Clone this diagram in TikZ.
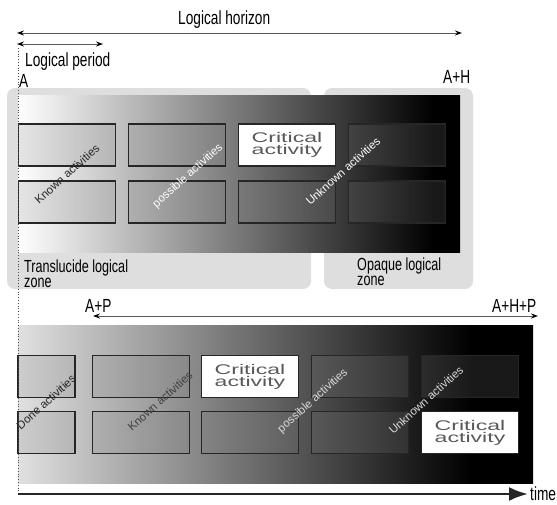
\documentclass[tikz,border=0pt]{standalone}
\usepackage{fontspec}
\setmainfont{Liberation Sans}
\newfontfamily\narrowfont[FakeStretch=0.72]{Liberation Sans}
\newfontfamily\widefont[FakeStretch=1.65]{Liberation Sans}
\usepackage{tikz}
\usetikzlibrary{positioning, arrows.meta}

\pgfdeclarehorizontalshading{upperfade}{100bp}{color(0bp)=(white); color(25bp)=(white); color(72bp)=(black); color(100bp)=(black)}
\pgfdeclarehorizontalshading{lowerfade}{100bp}{color(0bp)=(black!12); color(25bp)=(black!12); color(69bp)=(black); color(100bp)=(black)}

\tikzset{
  act/.style={draw=black!85, line width=1.1pt, fill=gray, fill opacity=0.2,
    minimum width=97pt, minimum height=42pt, inner sep=0pt},
  crit/.style={draw=black!85, line width=1.1pt, fill=white, minimum width=97pt,
    minimum height=42pt, inner sep=0pt, align=center, text=black!65,
    font=\widefont\fontsize{14}{12}\selectfont},
  tagtext/.style={rotate=42, inner sep=0pt, font=\fontsize{11.5}{12}\selectfont},
  lbl/.style={inner sep=0pt, anchor=base west, font=\narrowfont\fontsize{19}{19}\selectfont},
  zonelbl/.style={inner sep=0pt, anchor=north west, align=left,
    font=\narrowfont\fontsize{17.5}{15}\selectfont},
  zonebox/.style={fill=black!13, rounded corners=8pt},
  spanarrow/.style={black!65, line width=1pt,
    {Stealth[length=7pt,width=5pt,color=black]}-{Stealth[length=7pt,width=5pt,color=black]}}
}

\begin{document}
\begin{tikzpicture}[x=1pt, y=-1pt, on grid]
  \useasboundingbox (0,0) rectangle (557,504);

  % Zonas logicas
  \fill[zonebox] (7,88) rectangle (311,289);
  \fill[zonebox] (324,88) rectangle (473,289);
  \shade[shading=upperfade] (18,95) rectangle (460,252);
  \shade[shading=lowerfade] (18,325) rectangle (533,483);

  % Fila superior
  \node[act] (u11) at (67,145) {};
  \node[act] (u12) [right=110pt of u11] {};
  \node[crit] (u13) [right=110pt of u12] {Critical\\activity};
  \node[act] (u14) [right=110pt of u13] {};
  \node[act] (u21) [below=57pt of u11] {};
  \node[act] (u22) [right=110pt of u21] {};
  \node[act] (u23) [right=110pt of u22] {};
  \node[act] (u24) [right=110pt of u23] {};

  % Fila inferior
  \node[act, minimum width=57pt] (l11) at (46.5,376.5) {};
  \node[act] (l12) [right=94.5pt of l11] {};
  \node[crit] (l13) [right=109pt of l12] {Critical\\activity};
  \node[act] (l14) [right=110pt of l13] {};
  \node[act] (l15) [right=110pt of l14] {};
  \node[act, minimum width=57pt] (l21) [below=56pt of l11] {};
  \node[act] (l22) [right=94.5pt of l21] {};
  \node[act] (l23) [right=109pt of l22] {};
  \node[act] (l24) [right=110pt of l23] {};
  \node[crit] (l25) [right=110pt of l24] {Critical\\activity};

  % Etiquetas inclinadas
  \node[tagtext, text=black!85] (uk) at (67,174) {Known activities};
  \node[tagtext, text=white] (up) at (188,176) {possible activities};
  \node[tagtext, text=white] (uu) at (343,171) {Unknown activities};
  \node[tagtext, text=black!85] (ld) at (46,402) {Done activities};
  \node[tagtext, text=black!75] (lk) at (160,401) {Known activities};
  \node[tagtext, text=black!15] (lp) at (313,401) {possible activities};
  \node[tagtext, text=black!15] (lu) at (426,400) {Unknown activities};

  % Horizontes
  \coordinate (H0) at (17,33);
  \coordinate (H1) at (462,33);
  \coordinate (P0) at (17,44);
  \coordinate (P1) at (103,44);
  \coordinate (Q0) at (93,316);
  \coordinate (Q1) at (538,316);
  \coordinate (D0) at (18,48);
  \coordinate (T0) at (18,494);
  \coordinate (T1) at (528,494);
  \draw[spanarrow] (H0) -- (H1);
  \draw[spanarrow] (P0) -- (P1);
  \draw[spanarrow] (Q0) -- (Q1);
  \draw[black!70, line width=0.8pt, dotted] (D0) -- (T0);
  \draw[black!85, line width=2.5pt, -{Latex[length=19pt,width=14pt]}] (T0) -- (T1);

  % Textos
  \node[lbl] (hz) at (178,24) {Logical horizon};
  \node[lbl] (pd) at (25,66) {Logical period};
  \node[lbl] (a) at (19,87) {A};
  \node[lbl] (ah) at (443,83) {A+H};
  \node[lbl] (ap) at (85,312) {A+P};
  \node[lbl] (ahp) at (492,312) {A+H+P};
  \node[lbl] (tm) at (530,500) {time};
  \node[zonelbl] (zt) at (24,260) {Translucide logical\\zone};
  \node[zonelbl] (zo) at (357,258) {Opaque logical\\zone};
\end{tikzpicture}
\end{document}
